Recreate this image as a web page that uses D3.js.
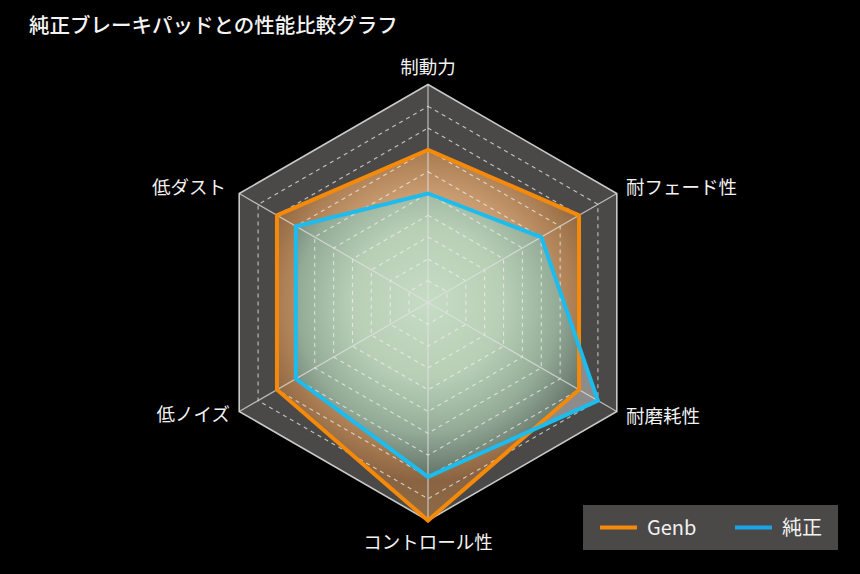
<!DOCTYPE html>
<html>
<head>
<meta charset="utf-8">
<script src="https://cdn.jsdelivr.net/npm/d3@7"></script>
<style>
  body { margin: 0; background: #000; }
  svg { display: block; font-family: "Noto Sans CJK JP", "Noto Sans", sans-serif; }
</style>
</head>
<body>
<div id="chart"></div>
<script>
// axes, clockwise from the top
const axes = ["制動力", "耐フェード性", "耐磨耗性", "コントロール性", "低ノイズ", "低ダスト"];
const seriesNames = ["Genb", "純正"];
const genbValues = [7, 8, 8, 10, 8, 8];
const junseiValues = [5, 6, 9, 8, 7, 7];
const levels = [1, 2, 3, 4, 5, 6, 7, 8, 9, 10];

const width = 860, height = 574;
const cx = 428, cy = 302.5, radius = 218;

const svg = d3.select("#chart").append("svg")
    .attr("width", width)
    .attr("height", height);

svg.append("rect").attr("width", width).attr("height", height).attr("fill", "#000");

const rScale = d3.scaleLinear().domain([0, 10]).range([0, radius]);
const angle = d3.scaleLinear().domain([0, axes.length]).range([0, 2 * Math.PI]);

const line = d3.lineRadial()
    .angle((d, i) => angle(i))
    .radius(d => rScale(d))
    .curve(d3.curveLinearClosed);

const defs = svg.append("defs");

function radial(id, stops) {
    const g = defs.append("radialGradient")
        .attr("id", id)
        .attr("gradientUnits", "userSpaceOnUse")
        .attr("cx", 0).attr("cy", 0).attr("r", radius);
    stops.forEach(s => g.append("stop").attr("offset", s[0]).attr("stop-color", s[1]));
}

radial("fillGenb", [
    ["0%", "#dcb792"],
    ["50%", "#c89c70"],
    ["68%", "#aa7d52"],
    ["82%", "#8a6442"],
    ["100%", "#8e6a46"]
]);

radial("fillJunsei", [
    ["0%", "#c6dcc4"],
    ["35%", "#b8cfb6"],
    ["60%", "#93aa96"],
    ["78%", "#68786c"],
    ["100%", "#606e64"]
]);

defs.append("clipPath")
    .attr("id", "clipGenb")
    .append("path")
    .attr("transform", `translate(${cx},${cy})`)
    .attr("d", line(genbValues));

const chart = svg.append("g")
    .attr("transform", `translate(${cx},${cy})`);

const ring = lvl => line(axes.map(() => lvl));

// background hexagon
chart.append("path")
    .attr("d", ring(10))
    .attr("fill", "#4a4948");

// area fills
chart.append("path")
    .attr("d", line(genbValues))
    .attr("fill", "url(#fillGenb)");

// part of 純正 outside Genb shows lighter grey
chart.append("path")
    .attr("d", line(junseiValues))
    .attr("fill", "#8d8c8b");

svg.append("g")
    .attr("clip-path", "url(#clipGenb)")
    .append("path")
    .attr("transform", `translate(${cx},${cy})`)
    .attr("d", line(junseiValues))
    .attr("fill", "url(#fillJunsei)");

const grid = svg.append("g")
    .attr("transform", `translate(${cx},${cy})`);

// grid rings
grid.selectAll(".ring")
    .data(levels)
    .join("path")
    .attr("class", "ring")
    .attr("d", d => ring(d))
    .attr("fill", "none")
    .attr("stroke", d => d === 10 ? "#c8c8c8" : "rgba(240,240,240,0.72)")
    .attr("stroke-width", d => d === 10 ? 1.6 : 1.1)
    .attr("stroke-dasharray", d => d === 10 ? null : "4,4");

// spokes
grid.selectAll(".spoke")
    .data(axes)
    .join("line")
    .attr("class", "spoke")
    .attr("x1", 0).attr("y1", 0)
    .attr("x2", (d, i) => rScale(10) * Math.sin(angle(i)))
    .attr("y2", (d, i) => -rScale(10) * Math.cos(angle(i)))
    .attr("stroke", "rgba(225,225,225,0.75)")
    .attr("stroke-width", 1.2);

// series outlines
grid.append("path")
    .attr("d", line(genbValues))
    .attr("fill", "none")
    .attr("stroke", "#f58a0a")
    .attr("stroke-width", 4);

grid.append("path")
    .attr("d", line(junseiValues))
    .attr("fill", "none")
    .attr("stroke", "#1cbcef")
    .attr("stroke-width", 4);

// axis labels
const labelPos = [
    {x: 0, y: -229, anchor: "middle"},
    {x: 198, y: -109, anchor: "start"},
    {x: 198, y: 120, anchor: "start"},
    {x: 0, y: 246, anchor: "middle"},
    {x: -198, y: 118, anchor: "end"},
    {x: -202, y: -109, anchor: "end"}
];

grid.selectAll(".axis-label")
    .data(axes)
    .join("text")
    .attr("class", "axis-label")
    .attr("x", (d, i) => labelPos[i].x)
    .attr("y", (d, i) => labelPos[i].y)
    .attr("text-anchor", (d, i) => labelPos[i].anchor)
    .attr("fill", "#f2f2f2")
    .attr("font-size", 18.5)
    .text(d => d);

// title
svg.append("text")
    .attr("x", 29)
    .attr("y", 33)
    .attr("fill", "#f4f4f4")
    .attr("font-size", 20.5)
    .attr("font-weight", 500)
    .text("純正ブレーキパッドとの性能比較グラフ");

// legend
const legend = svg.append("g").attr("transform", "translate(583,505)");
legend.append("rect")
    .attr("width", 255)
    .attr("height", 45)
    .attr("fill", "#4a4948");

const legendColors = ["#f58a0a", "#1aa6e6"];
const legendItems = legend.selectAll(".item")
    .data(seriesNames)
    .join("g")
    .attr("class", "item")
    .attr("transform", (d, i) => `translate(${17 + i * 135},0)`);

legendItems.append("line")
    .attr("x1", 0).attr("x2", 37)
    .attr("y1", 22.5).attr("y2", 22.5)
    .attr("stroke", (d, i) => legendColors[i])
    .attr("stroke-width", 4);

legendItems.append("text")
    .attr("x", 47)
    .attr("y", 29.5)
    .attr("fill", "#f2f2f2")
    .attr("font-size", 20)
    .text(d => d);
</script>
</body>
</html>
